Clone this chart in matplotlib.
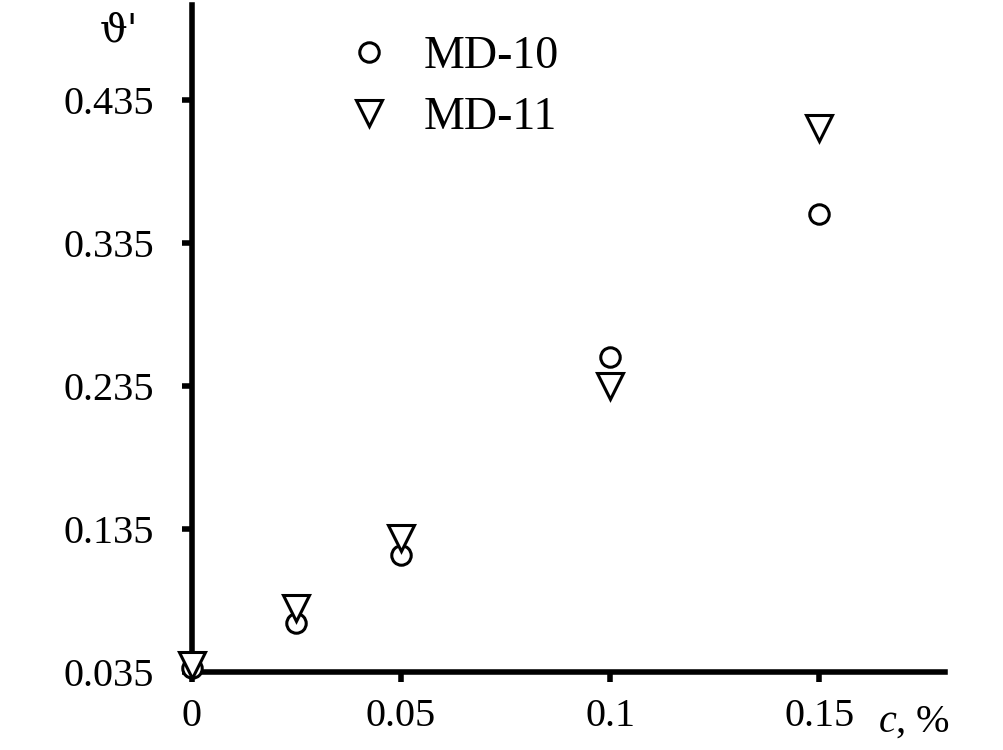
import matplotlib
matplotlib.use("Agg")
import matplotlib.pyplot as plt

plt.rcParams['font.family'] = ['Liberation Serif', 'DejaVu Serif']
plt.rcParams['mathtext.fontset'] = 'custom'
plt.rcParams['mathtext.rm'] = 'Liberation Serif'
plt.rcParams['mathtext.it'] = 'Liberation Serif:italic'

c = [0, 0.025, 0.05, 0.1, 0.15]
md10 = [0.038, 0.069, 0.117, 0.255, 0.355]
md11 = [0.040, 0.080, 0.129, 0.235, 0.415]
xticks = [0, 0.05, 0.1, 0.15]
xticklabels = ["0", "0.05", "0.1", "0.15"]
yticks = [0.035, 0.135, 0.235, 0.335, 0.435]
yticklabels = ["0.035", "0.135", "0.235", "0.335", "0.435"]

fig = plt.figure(figsize=(10.04, 7.5), dpi=100)
ax = fig.add_axes([0.191, 0.104, 0.750, 0.889])

ax.plot(c, md10, linestyle='none', marker='o', markersize=14, markerfacecolor='white',
        markeredgecolor='black', markeredgewidth=2.2, clip_on=False, zorder=3, label='MD-10')
ax.plot(c, md11, linestyle='none', marker='v', markersize=19, markerfacecolor='white',
        markeredgecolor='black', markeredgewidth=2.2, clip_on=False, zorder=4, label='MD-11')

ax.set_xlim(0, 0.18)
ax.set_ylim(0.035, 0.501)
ax.set_xticks(xticks)
ax.set_xticklabels(xticklabels)
ax.set_yticks(yticks)
ax.set_yticklabels(yticklabels)

for s in ['top', 'right']:
    ax.spines[s].set_visible(False)
for s in ['left', 'bottom']:
    ax.spines[s].set_linewidth(4)
ax.tick_params(axis='both', direction='out', length=7, width=4, labelsize=29)
ax.tick_params(axis='y', pad=20)
ax.tick_params(axis='x', pad=12)

leg = ax.legend(loc='upper left', bbox_to_anchor=(0.15, 1.017), frameon=False,
                fontsize=33, handletextpad=0.7, labelspacing=0.42, handlelength=1.0)

fig.text(0.118, 0.958, "ϑ'", fontsize=28, ha='center', va='center', family='DejaVu Serif')
fig.text(0.910, 0.037, "$c$, %", fontsize=29, ha='center', va='center')

fig.savefig("out.png", dpi=100)
